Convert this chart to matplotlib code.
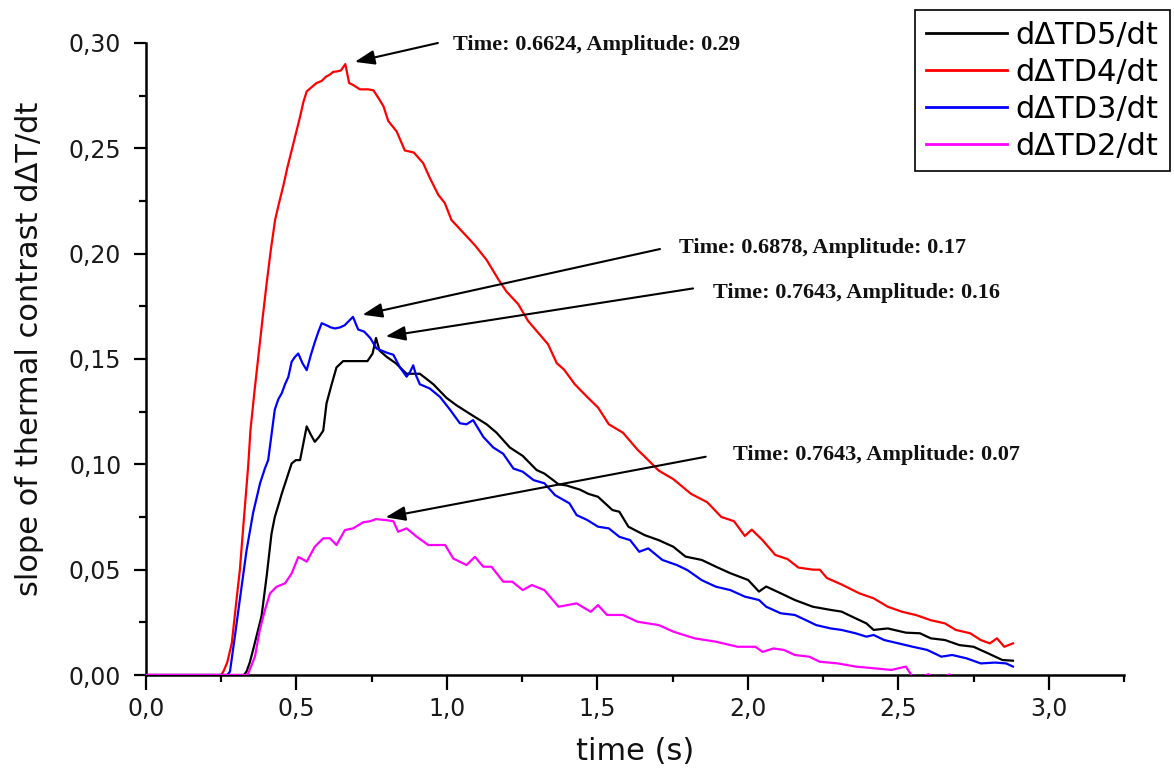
import numpy as np
import matplotlib
matplotlib.use("Agg")
import matplotlib.pyplot as plt
from matplotlib.ticker import MultipleLocator, FuncFormatter

# ---- slope curves dΔT/dt for each defect depth (time in s) ----
t_d5 = [0.0, 0.325, 0.334, 0.345, 0.356, 0.37, 0.384, 0.401, 0.417, 0.428, 0.445, 0.451,
        0.467, 0.484, 0.498, 0.512, 0.523, 0.534, 0.548, 0.561, 0.575, 0.589, 0.600, 0.617,
        0.633, 0.655, 0.70, 0.736, 0.753, 0.7643, 0.776, 0.80, 0.83, 0.866, 0.910, 0.955,
        0.999, 1.032, 1.076, 1.132, 1.165, 1.209, 1.252, 1.298, 1.324, 1.353, 1.371, 1.397,
        1.419, 1.442, 1.470, 1.502, 1.550, 1.573, 1.603, 1.657, 1.704, 1.752, 1.793, 1.847,
        1.894, 1.942, 2.001, 2.037, 2.061, 2.109, 2.156, 2.216, 2.275, 2.311, 2.358, 2.394,
        2.418, 2.465, 2.525, 2.572, 2.608, 2.655, 2.703, 2.750, 2.798, 2.846, 2.881]
d5 = [0.0, 0.0, 0.0016, 0.006, 0.012, 0.02, 0.028, 0.047, 0.067, 0.075, 0.083, 0.086,
      0.093, 0.1004, 0.102, 0.102, 0.11, 0.118, 0.114, 0.1107, 0.113, 0.116, 0.129, 0.138,
      0.146, 0.149, 0.149, 0.149, 0.1526, 0.16, 0.154, 0.151, 0.148, 0.143, 0.143, 0.138,
      0.1315, 0.128, 0.124, 0.119, 0.115, 0.108, 0.104, 0.0973, 0.0956, 0.0925, 0.0905, 0.090,
      0.089, 0.088, 0.086, 0.0846, 0.0783, 0.0775, 0.0704, 0.0664, 0.064, 0.0609, 0.0562, 0.0546,
      0.0514, 0.0483, 0.0451, 0.0396, 0.042, 0.0388, 0.0356, 0.0324, 0.0309, 0.0301, 0.0269, 0.0245,
      0.0214, 0.0221, 0.0201, 0.0198, 0.0174, 0.0166, 0.0142, 0.0134, 0.0103, 0.0071, 0.0068]

t_d4 = [0.0, 0.25, 0.257, 0.27, 0.285, 0.301, 0.312, 0.323, 0.340, 0.347, 0.36, 0.374,
        0.388, 0.401, 0.415, 0.429, 0.442, 0.456, 0.470, 0.484, 0.498, 0.512, 0.523, 0.534,
        0.55, 0.567, 0.584, 0.598, 0.611, 0.622, 0.635, 0.648, 0.6624, 0.675, 0.689, 0.711,
        0.739, 0.756, 0.772, 0.789, 0.805, 0.833, 0.860, 0.875, 0.890, 0.921, 0.943, 0.971,
        0.993, 1.015, 1.054, 1.093, 1.132, 1.170, 1.198, 1.237, 1.270, 1.306, 1.336, 1.365,
        1.389, 1.425, 1.466, 1.502, 1.538, 1.585, 1.633, 1.657, 1.704, 1.752, 1.811, 1.865,
        1.912, 1.954, 1.990, 2.013, 2.049, 2.091, 2.132, 2.168, 2.216, 2.239, 2.263, 2.311,
        2.370, 2.418, 2.465, 2.513, 2.560, 2.608, 2.655, 2.691, 2.739, 2.774, 2.804, 2.828,
        2.852, 2.881]
d4 = [0.0, 0.0, 0.0016, 0.006, 0.015, 0.036, 0.05, 0.07, 0.10, 0.116, 0.134, 0.152,
      0.17, 0.186, 0.202, 0.216, 0.224, 0.232, 0.241, 0.249, 0.257, 0.265, 0.272, 0.277,
      0.279, 0.281, 0.282, 0.284, 0.285, 0.2863, 0.2865, 0.287, 0.29, 0.281, 0.280, 0.278,
      0.278, 0.2775, 0.274, 0.27, 0.263, 0.258, 0.249, 0.2485, 0.248, 0.243, 0.236, 0.228,
      0.224, 0.216, 0.210, 0.204, 0.197, 0.188, 0.182, 0.176, 0.168, 0.162, 0.157, 0.148,
      0.145, 0.138, 0.132, 0.127, 0.119, 0.115, 0.107, 0.1037, 0.097, 0.093, 0.086, 0.082,
      0.075, 0.073, 0.066, 0.069, 0.064, 0.057, 0.055, 0.051, 0.050, 0.050, 0.046, 0.043,
      0.0388, 0.0364, 0.0324, 0.030, 0.0284, 0.026, 0.0245, 0.0214, 0.0198, 0.0166, 0.015, 0.0174,
      0.0134, 0.015]

t_d3 = [0.0, 0.27, 0.279, 0.295, 0.312, 0.334, 0.356, 0.379, 0.395, 0.406, 0.417, 0.428,
        0.44, 0.451, 0.462, 0.473, 0.484, 0.495, 0.506, 0.52, 0.534, 0.548, 0.561, 0.573,
        0.584, 0.600, 0.614, 0.628, 0.645, 0.66, 0.6878, 0.705, 0.725, 0.745, 0.766, 0.783,
        0.800, 0.822, 0.844, 0.866, 0.878, 0.888, 0.898, 0.910, 0.943, 0.977, 1.010, 1.043,
        1.065, 1.087, 1.121, 1.154, 1.187, 1.221, 1.252, 1.288, 1.324, 1.359, 1.407, 1.431,
        1.466, 1.502, 1.538, 1.573, 1.609, 1.639, 1.669, 1.716, 1.764, 1.799, 1.847, 1.894,
        1.942, 1.990, 2.037, 2.061, 2.109, 2.156, 2.192, 2.227, 2.275, 2.311, 2.358, 2.394,
        2.418, 2.453, 2.501, 2.548, 2.596, 2.643, 2.679, 2.727, 2.774, 2.822, 2.858, 2.881]
d3 = [0.0, 0.0, 0.0016, 0.018, 0.036, 0.059, 0.077, 0.091, 0.098, 0.102, 0.114, 0.126,
      0.131, 0.1337, 0.138, 0.1415, 0.1487, 0.151, 0.1526, 0.148, 0.1447, 0.152, 0.158, 0.163,
      0.167, 0.166, 0.165, 0.1645, 0.165, 0.166, 0.17, 0.164, 0.163, 0.160, 0.155, 0.154,
      0.153, 0.152, 0.146, 0.1416, 0.144, 0.147, 0.142, 0.138, 0.136, 0.132, 0.126, 0.1195,
      0.119, 0.121, 0.113, 0.108, 0.105, 0.098, 0.0965, 0.0925, 0.091, 0.0854, 0.0815, 0.0759,
      0.0736, 0.0704, 0.0696, 0.0656, 0.064, 0.0585, 0.0601, 0.0546, 0.0522, 0.0498, 0.045, 0.0419,
      0.0403, 0.0372, 0.0356, 0.0324, 0.0293, 0.0285, 0.0261, 0.0237, 0.0221, 0.0214, 0.0198, 0.0182,
      0.019, 0.0166, 0.015, 0.0134, 0.0119, 0.0087, 0.0095, 0.0079, 0.0055, 0.0059, 0.0055, 0.004]

t_d2 = [0.0, 0.335, 0.340, 0.362, 0.378, 0.395, 0.412, 0.434, 0.462, 0.484, 0.506, 0.52,
        0.534, 0.561, 0.589, 0.611, 0.633, 0.661, 0.688, 0.722, 0.745, 0.7643, 0.800, 0.822,
        0.838, 0.866, 0.900, 0.938, 0.955, 0.994, 1.021, 1.065, 1.093, 1.121, 1.148, 1.187,
        1.217, 1.252, 1.282, 1.324, 1.371, 1.431, 1.478, 1.502, 1.532, 1.585, 1.633, 1.704,
        1.752, 1.823, 1.894, 1.966, 2.025, 2.049, 2.085, 2.120, 2.156, 2.204, 2.239, 2.299,
        2.358, 2.418, 2.477, 2.525, 2.543, 2.56, 2.60, 2.63, 2.67, 2.70, 2.75, 2.80, 2.85, 2.88]
d2 = [0.0, 0.0, 0.0008, 0.0087, 0.0213, 0.0308, 0.0387, 0.0419, 0.0435, 0.0482, 0.056, 0.055,
      0.0538, 0.0609, 0.0649, 0.0649, 0.0617, 0.0688, 0.0696, 0.0725, 0.073, 0.074, 0.0735, 0.073,
      0.068, 0.0696, 0.0656, 0.0617, 0.0617, 0.0617, 0.0553, 0.0522, 0.0561, 0.0514, 0.0514, 0.0443,
      0.0443, 0.0403, 0.0427, 0.0403, 0.0324, 0.034, 0.030, 0.0332, 0.0285, 0.0285, 0.0253, 0.0237,
      0.0206, 0.0174, 0.0158, 0.0134, 0.0134, 0.011, 0.0126, 0.0119, 0.0095, 0.0087, 0.0063, 0.0055,
      0.004, 0.0032, 0.0024, 0.004, 0.0, -0.002, 0.0004, -0.002, 0.0003, -0.003, -0.004, -0.005,
      -0.006, -0.006]

series_labels = ["d\u0394TD5/dt", "d\u0394TD4/dt", "d\u0394TD3/dt", "d\u0394TD2/dt"]
series_colors = ["#000000", "#ff0000", "#0000ff", "#ff00ff"]
series_t = [t_d5, t_d4, t_d3, t_d2]
series_y = [d5, d4, d3, d2]

# order in which the peak call-outs are listed (red, blue, black, magenta)
callout_order = [1, 2, 0, 3]
# tail of each call-out arrow and where its text starts (data coordinates)
arrow_tails = [(0.970, 0.300), (1.708, 0.2022), (1.818, 0.1835), (1.860, 0.1036)]
text_starts = [(1.020, 0.299), (1.771, 0.2027), (1.884, 0.1813), (1.950, 0.1044)]

W, H = 1174, 774
fig = plt.figure(figsize=(W / 100, H / 100), dpi=100)
ax = fig.add_axes([146 / W, 1 - 675 / H, (1124 - 146) / W, (675 - 43) / H])

for t, y, c, lab in zip(series_t, series_y, series_colors, series_labels):
    ax.plot(t, y, color=c, lw=1.6, label=lab, zorder=3)

ax.set_xlim(0, 3.25)
ax.set_ylim(0, 0.30)
for side in ("top", "right"):
    ax.spines[side].set_visible(False)
for side in ("left", "bottom"):
    ax.spines[side].set_linewidth(1.8)

ax.xaxis.set_major_locator(MultipleLocator(0.5))
ax.xaxis.set_minor_locator(MultipleLocator(0.25))
ax.yaxis.set_major_locator(MultipleLocator(0.05))
ax.yaxis.set_minor_locator(MultipleLocator(0.025))
ax.xaxis.set_major_formatter(FuncFormatter(lambda v, p: f"{v:.1f}".replace(".", ",")))
ax.yaxis.set_major_formatter(FuncFormatter(lambda v, p: f"{v:.2f}".replace(".", ",")))

tick_color = "#1a1a1a"
ax.tick_params(axis="x", which="major", direction="out", length=10.5, width=1.6,
               labelsize=17, pad=5, labelcolor=tick_color)
ax.tick_params(axis="y", which="major", direction="out", length=8.8, width=1.6,
               labelsize=17, pad=9, labelcolor=tick_color)
ax.tick_params(which="minor", direction="out", length=5, width=1.6)

ax.set_xlabel("time (s)", fontsize=22, color="#111111")
ax.set_ylabel("slope of thermal contrast d\u0394T/dt", fontsize=22, color="#111111")
ax.xaxis.set_label_coords(0.5, -0.098)
ax.yaxis.set_label_coords(-0.104, 0.516)

# peak call-outs
for k, idx in enumerate(callout_order):
    t = np.asarray(series_t[idx])
    y = np.asarray(series_y[idx])
    i = int(np.argmax(y))
    pt, pv = t[i], y[i]
    ax.annotate("", xy=(pt, pv), xytext=arrow_tails[k],
                arrowprops=dict(arrowstyle="-|>,head_length=0.6,head_width=0.22",
                                mutation_scale=20, lw=1.5, color="black",
                                shrinkA=0, shrinkB=7),
                annotation_clip=False, zorder=5)
    ax.text(text_starts[k][0], text_starts[k][1],
            f"Time: {pt:.4f}, Amplitude: {pv:.2f}",
            ha="left", va="center", fontsize=16, fontweight="bold",
            family="Liberation Serif", color="#111111", clip_on=False, zorder=6)

leg = ax.legend(loc="upper left", bbox_to_anchor=(915 / W, 1 - 10 / H),
                bbox_transform=fig.transFigure, fontsize=22, frameon=True,
                fancybox=False, shadow=False, edgecolor="black", framealpha=1,
                handlelength=2.65, handletextpad=0.3, borderpad=0.35,
                labelspacing=0.26, borderaxespad=0)
leg.get_frame().set_linewidth(1.2)
for line in leg.get_lines():
    line.set_linewidth(2.0)

fig.savefig("out.png", dpi=100)
